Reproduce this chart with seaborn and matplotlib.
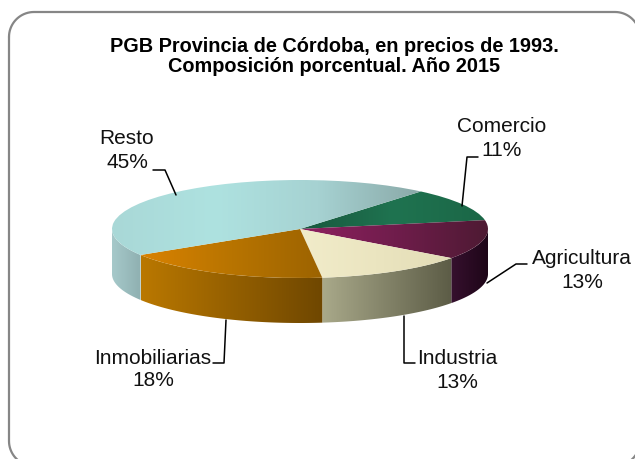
import numpy as np
import seaborn as sns
import matplotlib.pyplot as plt
from matplotlib.colors import LinearSegmentedColormap

sectores = ['Comercio', 'Agricultura', 'Industria', 'Inmobiliarias', 'Resto']
valores = [11, 13, 13, 18, 45]

colores_tapa = [
    ['#17573d', '#1f7350', '#1b6747'],
    ['#8f2060', '#701d4c', '#4e1a33'],
    ['#f1ecca', '#ebe5c0', '#e2dcb6'],
    ['#d98200', '#b87400', '#9c6300'],
    ['#a9d8d7', '#aee2e0', '#a6d2d2', '#8aa9a8'],
]
colores_pared = [
    ['#1a5a40', '#123a2a'],
    ['#36102e', '#1e0618'],
    ['#a9a98a', '#5c5c46'],
    ['#ba7800', '#6f4700'],
    ['#a6c9ca', '#8fb0b1'],
]

sns.set_theme(style='white')
plt.rcParams['font.family'] = ['Liberation Sans', 'DejaVu Sans']

fig = plt.figure(figsize=(6.35, 4.59), dpi=100, facecolor='white')

# ejes del pie: 1 unidad x = 188 px, 1 unidad y = 49 px, centro en (300, 229)
ax = fig.add_axes([0, 0, 1, 1])
wedges, _ = ax.pie(valores, startangle=50, counterclock=False, radius=1, center=(0, 0))
ax.set_aspect('auto')
lims_x = ((0 - 300) / 188, (635 - 300) / 188)
lims_y = ((229 - 459) / 49, 229 / 49)
ax.axis('off')

prof = 45 / 49
grad = np.linspace(0, 1, 256).reshape(1, -1)

# paredes, del angulo de cada porcion limitado a la mitad de adelante
for w, cols in zip(wedges, colores_pared):
    t1, t2 = w.theta1, w.theta2
    while t2 > 180:
        t1 -= 360
        t2 -= 360
    t1, t2 = max(t1, -180), min(t2, 0)
    if t2 <= t1:
        continue
    t = np.radians(np.linspace(t1, t2, 80))
    x, y = np.cos(t), np.sin(t)
    poly = plt.Polygon(np.r_[np.c_[x, y], np.c_[x[::-1], y[::-1] - prof]],
                       closed=True, fc='none', ec='none', transform=ax.transData)
    ax.add_patch(poly)
    cm = LinearSegmentedColormap.from_list('p', cols)
    im = ax.imshow(grad, cmap=cm, aspect='auto', zorder=1,
                   extent=(x.min(), x.max(), (y - prof).min(), y.max()))
    im.set_clip_path(poly)

# tapas, el degradado va de punta a punta de cada porcion
for w, cols in zip(wedges, colores_tapa):
    w.set_facecolor('none')
    w.set_edgecolor('none')
    t = np.radians(np.linspace(w.theta1, w.theta2, 120))
    xs = np.r_[np.cos(t), 0]
    cm = LinearSegmentedColormap.from_list('t', cols)
    im = ax.imshow(grad, cmap=cm, aspect='auto', zorder=2,
                   extent=(xs.min(), xs.max(), -1, 1))
    im.set_clip_path(w)
    w.set_zorder(3)

ax.set_xlim(lims_x)
ax.set_ylim(lims_y)

# capa en pixeles para marco, textos y lineas guia
capa = fig.add_axes([0, 0, 1, 1], facecolor='none')
capa.set_xlim(0, 635)
capa.set_ylim(459, 0)
capa.axis('off')

# marco redondeado
izq, der, arr, aba, r = 9, 640, 12, 466, 25
a = np.radians(np.linspace(0, 90, 20))
mx = np.r_[izq + r - r * np.cos(a), der - r + r * np.sin(a), der - r + r * np.cos(a),
           izq + r - r * np.sin(a), izq]
my = np.r_[arr + r - r * np.sin(a), arr + r - r * np.cos(a), aba - r + r * np.sin(a),
           aba - r + r * np.cos(a), arr + r]
capa.plot(mx, my, color='#868686', lw=1.6)

capa.text(334, 46, 'PGB Provincia de Córdoba, en precios de 1993.', ha='center', va='center',
          fontsize=14.3, fontweight='bold', color='black')
capa.text(334, 67, 'Composición porcentual. Año 2015', ha='center', va='center',
          fontsize=14.3, fontweight='bold', color='black')

etiquetas = [
    (502, 127, 151),
    (582, 258, 283),
    (457, 358, 383),
    (153, 358, 381),
    (127, 139, 163),
]
for s, v, (tx, ty1, ty2) in zip(sectores, valores, etiquetas):
    capa.text(tx, ty1, s, ha='center', va='center', fontsize=15, color='#111111')
    capa.text(tx, ty2, f'{v}%', ha='center', va='center', fontsize=15, color='#111111')

guias = [
    ([462, 467, 478], [206, 157, 157]),
    ([487, 516, 527], [283, 264, 264]),
    ([404, 404, 415], [316, 363, 363]),
    ([226, 224, 213], [320, 363, 363]),
    ([176, 165, 153], [195, 170, 170]),
]
for gx, gy in guias:
    capa.plot(gx, gy, color='black', lw=1.1)

fig.savefig('out.png', dpi=100)
